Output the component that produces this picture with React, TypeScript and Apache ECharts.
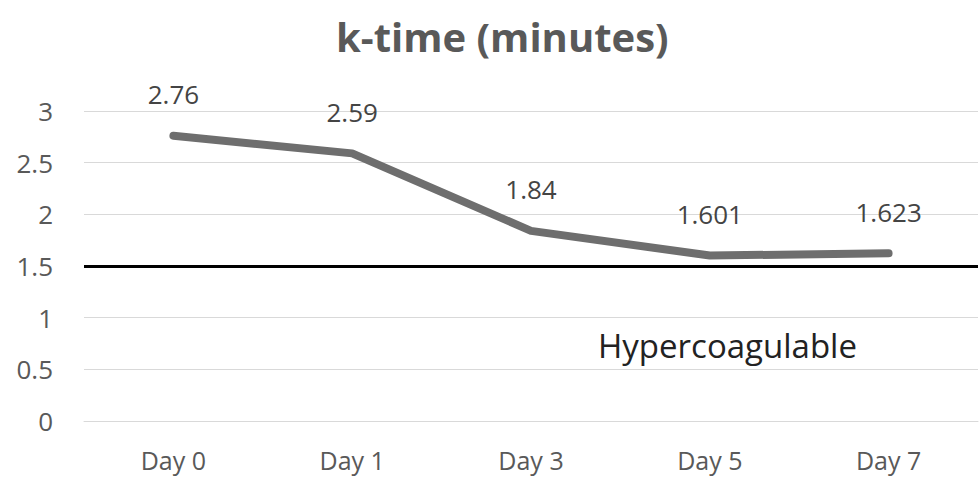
import React, { useEffect, useRef } from "react";
import * as echarts from "echarts";

const categories = ["Day 0", "Day 1", "Day 3", "Day 5", "Day 7"];
const kTime = [2.76, 2.59, 1.84, 1.601, 1.623];
const yTicks = { min: 0, max: 3, interval: 0.5 };
const threshold = 1.5;
const thresholdLabel = "Hypercoagulable";
const title = "k-time (minutes)";

const FONT = "'Open Sans', 'Noto Sans', sans-serif";

export default function App() {
  const ref = useRef<HTMLDivElement>(null);

  useEffect(() => {
    if (!ref.current) return;
    const chart = echarts.init(ref.current, undefined, { renderer: "svg" });
    chart.setOption({
      animation: false,
      backgroundColor: "#ffffff",
      title: {
        text: title,
        left: 331,
        top: 11,
        textStyle: { fontFamily: FONT, fontSize: 40, fontWeight: "bold", color: "#595959" },
      },
      grid: { left: 84, right: 1, top: 111, bottom: 56 },
      xAxis: {
        type: "category",
        data: categories,
        axisLine: { show: true, lineStyle: { color: "#d9d9d9", width: 1 } },
        axisTick: { show: false },
        axisLabel: { fontFamily: FONT, fontSize: 25, lineHeight: 26, color: "#595959", margin: 26 },
      },
      yAxis: {
        type: "value",
        min: yTicks.min,
        max: yTicks.max,
        interval: yTicks.interval,
        axisLine: { show: false },
        axisTick: { show: false },
        splitLine: { lineStyle: { color: "#d9d9d9", width: 1 } },
        axisLabel: { fontFamily: FONT, fontSize: 26, color: "#595959", margin: 31 },
      },
      graphic: [
        {
          type: "text",
          left: 598,
          top: 329,
          style: { text: thresholdLabel, fontFamily: FONT, fontSize: 33, fill: "#222222" },
        },
      ],
      series: [
        {
          type: "line",
          data: kTime,
          symbol: "circle",
          symbolSize: 1,
          showSymbol: true,
          itemStyle: { color: "#6e6e6e" },
          lineStyle: { color: "#6e6e6e", width: 8, cap: "round", join: "round" },
          label: {
            show: true,
            position: "top",
            distance: 28,
            fontFamily: FONT,
            fontSize: 26,
            color: "#444444",
            formatter: (p: any) => String(p.value),
          },
          markLine: {
            silent: true,
            symbol: "none",
            label: { show: false },
            lineStyle: { color: "#000000", width: 3, type: "solid" },
            data: [{ yAxis: threshold }],
          },
        },
      ],
    });
    return () => chart.dispose();
  }, []);

  return (
    <div
      ref={ref}
      style={{ position: "fixed", left: 0, top: 0, width: 979, height: 477 }}
    />
  );
}
